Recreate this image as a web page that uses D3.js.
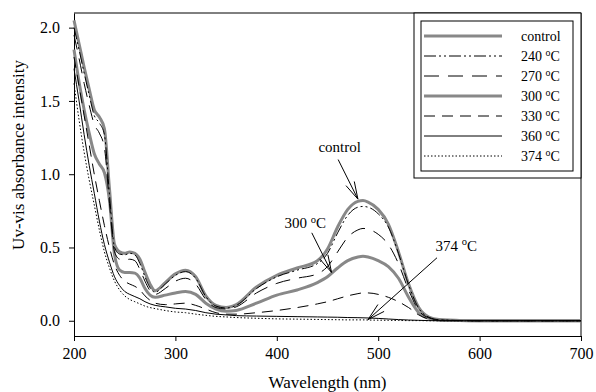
<!DOCTYPE html>
<html>
<head>
<meta charset="utf-8">
<script src="https://cdn.jsdelivr.net/npm/d3@7"></script>
<style>
  body { margin: 0; background: #fff; }
  svg { display: block; }
</style>
</head>
<body>
<div id="chart"></div>
<script>
// --- DATA ---
const wavelengths = [200,205,210,215,220,225,230,235,240,245,250,255,260,265,270,275,280,290,300,310,320,330,340,350,360,380,400,420,440,450,460,470,480,485,490,500,510,520,530,540,550,560,580,600,650,700];

const control = [2.05,1.89,1.73,1.58,1.44,1.39,1.31,0.90,0.52,0.47,0.46,0.47,0.46,0.42,0.33,0.25,0.205,0.26,0.32,0.345,0.30,0.17,0.105,0.09,0.11,0.23,0.31,0.36,0.41,0.49,0.64,0.76,0.815,0.82,0.81,0.76,0.66,0.47,0.25,0.09,0.025,0.008,0.002,0,0,0];
const t240 = [2.00,1.85,1.69,1.54,1.40,1.35,1.27,0.86,0.50,0.455,0.45,0.46,0.45,0.39,0.30,0.225,0.195,0.25,0.31,0.335,0.29,0.165,0.10,0.087,0.105,0.22,0.30,0.345,0.39,0.46,0.60,0.72,0.775,0.78,0.775,0.73,0.64,0.46,0.245,0.085,0.024,0.007,0.002,0,0,0];
const t270 = [1.95,1.79,1.62,1.47,1.34,1.28,1.18,0.80,0.47,0.42,0.415,0.42,0.41,0.35,0.27,0.205,0.18,0.22,0.27,0.29,0.25,0.145,0.09,0.08,0.095,0.19,0.255,0.29,0.32,0.37,0.47,0.57,0.62,0.63,0.625,0.59,0.52,0.39,0.21,0.07,0.02,0.006,0.001,0,0,0];
const t300 = [1.85,1.63,1.44,1.28,1.14,1.07,1.01,0.82,0.45,0.345,0.33,0.33,0.325,0.29,0.22,0.175,0.16,0.175,0.19,0.20,0.18,0.12,0.08,0.065,0.07,0.12,0.175,0.21,0.26,0.30,0.36,0.41,0.435,0.44,0.435,0.41,0.37,0.29,0.16,0.055,0.016,0.005,0.001,0,0,0];
const t330 = [1.80,1.60,1.40,1.20,1.00,0.82,0.65,0.50,0.38,0.31,0.27,0.25,0.235,0.21,0.17,0.14,0.12,0.11,0.115,0.12,0.105,0.08,0.055,0.045,0.045,0.055,0.07,0.09,0.115,0.13,0.15,0.17,0.185,0.19,0.19,0.18,0.16,0.13,0.09,0.04,0.012,0.004,0.001,0,0,0];
const t360 = [1.72,1.50,1.27,1.06,0.87,0.68,0.52,0.40,0.30,0.24,0.20,0.18,0.165,0.15,0.13,0.115,0.105,0.095,0.085,0.08,0.07,0.055,0.045,0.04,0.035,0.032,0.03,0.028,0.026,0.025,0.024,0.022,0.021,0.02,0.019,0.016,0.012,0.008,0.005,0.003,0.001,0,0,0,0,0];
const t374 = [1.62,1.37,1.15,0.96,0.79,0.62,0.47,0.36,0.27,0.21,0.17,0.145,0.13,0.115,0.10,0.09,0.083,0.07,0.06,0.055,0.045,0.037,0.03,0.026,0.022,0.017,0.013,0.011,0.009,0.008,0.007,0.006,0.006,0.006,0.005,0.004,0.003,0.002,0.001,0.001,0,0,0,0,0,0];

const seriesNames = ["control", "240", "270", "300", "330", "360", "374"];
const seriesValues = [control, t240, t270, t300, t330, t360, t374];

const xTicks = [200, 300, 400, 500, 600, 700];
const yTicks = [0.0, 0.5, 1.0, 1.5, 2.0];

// annotations: label, text position, arrow tail, arrow tip (data units)
const notes = [
    { label: "control", deg: false, tx: 462, ty: 1.15, from: [460.5, 1.10], to: [480, 0.83] },
    { label: "300", deg: true, tx: 428, ty: 0.63, from: [434.5, 0.60], to: [454, 0.33] },
    { label: "374", deg: true, tx: 577, ty: 0.475, from: [558, 0.43], to: [490, 0.008] }
];

// --- STYLES ---
const FONT = "'Liberation Serif', 'Times New Roman', Times, serif";
const styles = {
    "control": { color: "#888", width: 3, dash: null },
    "240": { color: "#000", width: 1, dash: "12,3,2,3,2,3" },
    "270": { color: "#000", width: 1, dash: "15,9" },
    "300": { color: "#888", width: 3, dash: null },
    "330": { color: "#000", width: 1, dash: "11,7" },
    "360": { color: "#000", width: 1, dash: null },
    "374": { color: "#000", width: 1, dash: "1.5,2" }
};

const W = 596, H = 392;
const plotL = 74, plotR = 581, plotT = 13, plotB = 336;

const svg = d3.select("#chart").append("svg")
    .attr("width", W).attr("height", H)
    .attr("font-family", FONT);

const x = d3.scaleLinear().domain([200, 700]).range([plotL, plotR]);
const y = d3.scaleLinear().domain([-0.104, 2.1]).range([plotB, plotT]);

// frame (top + right)
svg.append("path")
    .attr("d", `M${plotL},${plotT}H${plotR}V${plotB}`)
    .attr("fill", "none").attr("stroke", "#000").attr("stroke-width", 1);

// axes
const xAxis = svg.append("g")
    .attr("transform", `translate(0,${plotB})`)
    .call(d3.axisBottom(x).tickValues(xTicks).tickFormat(d3.format("d")).tickSize(5).tickSizeOuter(0).tickPadding(7));
const yAxis = svg.append("g")
    .attr("transform", `translate(${plotL},0)`)
    .call(d3.axisLeft(y).tickValues(yTicks).tickFormat(d3.format(".1f")).tickSize(5).tickSizeOuter(0).tickPadding(9));

[xAxis, yAxis].forEach(g => {
    g.attr("font-family", FONT).attr("font-size", 16);
    g.selectAll("text").attr("font-family", FONT).attr("font-size", 16).attr("fill", "#000");
});

svg.append("text")
    .attr("x", (plotL + plotR) / 2).attr("y", 388)
    .attr("text-anchor", "middle").attr("font-size", 17)
    .text("Wavelength (nm)");

svg.append("text")
    .attr("transform", `translate(24,155) rotate(-90)`)
    .attr("text-anchor", "middle").attr("font-size", 17)
    .text("Uv-vis absorbance intensity");

// curves
const line = d3.line()
    .x(d => x(d[0]))
    .y(d => y(d[1]))
    .curve(d3.curveMonotoneX);

const drawOrder = ["300", "control", "374", "360", "330", "270", "240"];
drawOrder.forEach(name => {
    const vals = seriesValues[seriesNames.indexOf(name)];
    const st = styles[name];
    svg.append("path")
        .datum(wavelengths.map((w, i) => [w, vals[i]]))
        .attr("d", line)
        .attr("fill", "none")
        .attr("stroke", st.color)
        .attr("stroke-width", st.width)
        .attr("stroke-dasharray", st.dash)
        .attr("stroke-linejoin", "round");
});

// label with raised small "o" for degrees
function degLabel(sel, num, size) {
    sel.append("tspan").text(num + " ");
    sel.append("tspan").text("o").attr("font-size", size * 0.7).attr("dy", -size * 0.38);
    sel.append("tspan").text("C").attr("dy", size * 0.38);
}

// legend
const lg = svg.append("g");
lg.append("rect").attr("x", 414).attr("y", 13).attr("width", 167).attr("height", 165)
    .attr("fill", "#fff").attr("stroke", "#000");
lg.append("rect").attr("x", 421).attr("y", 21).attr("width", 152).attr("height", 150)
    .attr("fill", "none").attr("stroke", "#000");
seriesNames.forEach((name, i) => {
    const st = styles[name];
    const ly = 36 + i * 20;
    lg.append("line")
        .attr("x1", 424).attr("x2", 502).attr("y1", ly).attr("y2", ly)
        .attr("stroke", st.color).attr("stroke-width", st.width)
        .attr("stroke-dasharray", st.dash);
    const t = lg.append("text").attr("x", 521).attr("y", ly + 5).attr("font-size", 14);
    if (name === "control") t.text("control");
    else degLabel(t, name, 14);
});

// annotations with arrows
function arrow(x1, y1, x2, y2) {
    const a = Math.atan2(y2 - y1, x2 - x1);
    const len = 18, spread = 0.26;
    svg.append("line").attr("x1", x1).attr("y1", y1).attr("x2", x2).attr("y2", y2)
        .attr("stroke", "#000").attr("stroke-width", 1);
    [-spread, spread].forEach(s => {
        svg.append("line")
            .attr("x1", x2).attr("y1", y2)
            .attr("x2", x2 - len * Math.cos(a + s)).attr("y2", y2 - len * Math.sin(a + s))
            .attr("stroke", "#000").attr("stroke-width", 1);
    });
}

notes.forEach(n => {
    const t = svg.append("text")
        .attr("x", x(n.tx)).attr("y", y(n.ty))
        .attr("text-anchor", "middle").attr("font-size", 15);
    if (n.deg) degLabel(t, n.label, 15);
    else t.text(n.label);
    arrow(x(n.from[0]), y(n.from[1]), x(n.to[0]), y(n.to[1]));
});
</script>
</body>
</html>
